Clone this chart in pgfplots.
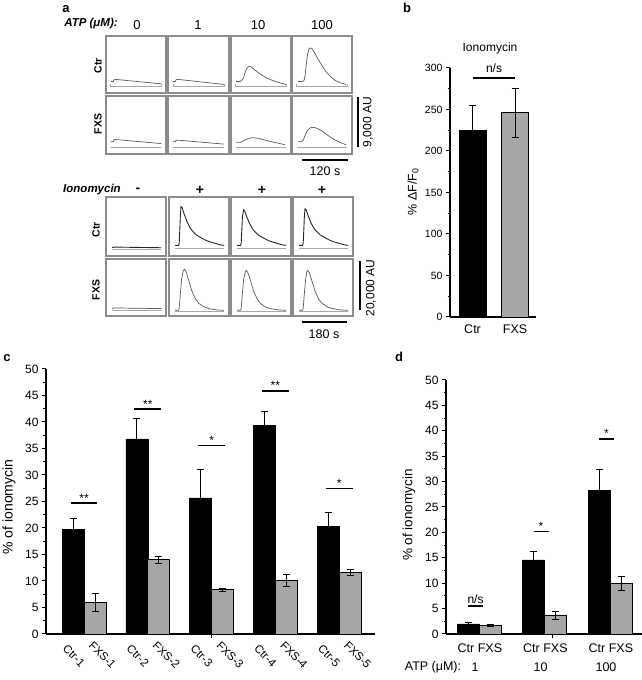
\documentclass[border=0pt]{standalone}
\usepackage{fontspec}
\setmainfont{Liberation Sans}
\usepackage{pgfplots}
\pgfplotsset{compat=1.18}
\newcommand\fs[1]{\fontsize{#1}{#1}\selectfont}
\definecolor{fxs}{HTML}{A6A6A6}
\definecolor{boxc}{HTML}{8C8C8C}
\definecolor{trc}{HTML}{5A5A5A}
\definecolor{basec}{HTML}{A8A8A8}
\pgfplotsset{
 tbox/.style={anchor=south west, scale only axis, xmin=0,xmax=100,ymin=0,ymax=100,
   xtick=\empty, ytick=\empty, axis line style={boxc, line width=1.1pt}},
 tr/.style={trc, line width=0.7pt, mark=none},
 trd/.style={black!85, line width=0.9pt, mark=none},
 bs/.style={basec, line width=0.7pt, mark=none},
 barax/.style={anchor=south west, scale only axis, axis x line=bottom, axis y line=left,
   axis line style={line width=1.1pt,-}, tick align=outside, major tick length=4pt,
   minor tick length=2.5pt, tick style={black, line width=1pt}, minor y tick num=1,
   /pgf/number format/assume math mode=true, clip=false, ymin=0,
   tick label style={font=\fs{12}},
   error bars/error bar style={line width=1pt,black},
   error bars/error mark options={rotate=90, mark size=3.5pt, line width=1pt, black}},
}
\begin{document}
\begin{tikzpicture}
\useasboundingbox (0pt,0pt) rectangle (642pt,680pt);
% ---------------- panel a, ATP ----------------
\begin{axis}[tbox, at={(106pt,587pt)}, width=60pt, height=57pt]
\addplot[bs] coordinates {(8,15)(8,12)(92,12)(92,15)};
\addplot[tr] coordinates {(8,20)(12,20)(13,23)(15,24)(92,16)};
\end{axis}
\begin{axis}[tbox, at={(168pt,587pt)}, width=61pt, height=57pt]
\addplot[bs] coordinates {(8,15)(8,12)(92,12)(92,15)};
\addplot[tr] coordinates {(8,20)(12,20)(13,23)(15,24)(92,15)};
\end{axis}
\begin{axis}[tbox, at={(231pt,587pt)}, width=60pt, height=57pt]
\addplot[bs] coordinates {(8,15)(8,12)(92,12)(92,15)};
\addplot[tr] coordinates {(8,20)(15,20)(18,22)(21,27)(24,38)(27,44)(30,47)(33,46)(38,42)(45,36)(52,31)(60,26)(68,22.5)(76,19.5)(84,17)(92,15)};
\end{axis}
\begin{axis}[tbox, at={(292pt,587pt)}, width=60pt, height=57pt]
\addplot[bs] coordinates {(8,15)(8,12)(92,12)(92,15)};
\addplot[tr] coordinates {(10,20)(17,20)(20,22)(22,32)(24,52)(26,68)(28,77)(30,79)(33,78)(37,72)(43,60)(50,48)(57,37)(64,29)(72,22)(80,18)(90,15)};
\end{axis}
\begin{axis}[tbox, at={(106pt,526pt)}, width=60pt, height=58pt]
\addplot[bs] coordinates {(8,12)(92,12)};
\addplot[tr] coordinates {(8,21)(12,21)(13,24)(15,25)(92,18)};
\end{axis}
\begin{axis}[tbox, at={(168pt,526pt)}, width=61pt, height=58pt]
\addplot[bs] coordinates {(8,12)(92,12)};
\addplot[tr] coordinates {(8,21)(12,21)(13,23)(15,24)(92,17)};
\end{axis}
\begin{axis}[tbox, at={(231pt,526pt)}, width=60pt, height=58pt]
\addplot[bs] coordinates {(8,12)(92,12)};
\addplot[tr] coordinates {(8,20)(16,20)(19,22)(25,25)(32,27.5)(38,28)(45,27)(60,23)(75,19.5)(90,16)};
\end{axis}
\begin{axis}[tbox, at={(292pt,526pt)}, width=60pt, height=58pt]
\addplot[bs] coordinates {(8,12)(92,12)};
\addplot[tr] coordinates {(10,21)(16,21)(19,24)(22,33)(26,41)(30,45)(35,46)(40,45)(48,41)(56,35)(64,29)(72,24)(80,20)(90,16)};
\end{axis}
% ---------------- panel a, ionomycin ----------------
\begin{axis}[tbox, at={(106pt,424pt)}, width=60pt, height=59pt]
\addplot[bs] coordinates {(10,12)(92,12)};
\addplot[trd] coordinates {(10,14)(13,15)(20,15)(92,14)};
\end{axis}
\begin{axis}[tbox, at={(169pt,424pt)}, width=60pt, height=59pt]
\addplot[bs] coordinates {(10,13)(92,13)};
\addplot[trd] coordinates {(10,18)(16,18)(17,22)(18,45)(19,70)(20,84)(22,82)(25,72)(30,58)(36,46)(45,36)(55,30)(65,25)(75,22)(85,19)(92,18)};
\end{axis}
\begin{axis}[tbox, at={(231pt,424pt)}, width=60pt, height=59pt]
\addplot[bs] coordinates {(10,13)(92,13)};
\addplot[trd] coordinates {(10,18)(16,18)(17,22)(18,43)(19,66)(21,78)(23,76)(26,67)(31,55)(37,44)(45,36)(55,30)(65,25)(75,22)(85,19)(92,18)};
\end{axis}
\begin{axis}[tbox, at={(293pt,424pt)}, width=60pt, height=59pt]
\addplot[bs] coordinates {(10,13)(92,13)};
\addplot[trd] coordinates {(10,18)(16,18)(17,22)(18,44)(19,68)(20,80)(22,78)(25,69)(30,56)(36,45)(45,36)(55,30)(65,25)(75,22)(85,19)(92,18)};
\end{axis}
\begin{axis}[tbox, at={(106pt,364pt)}, width=60pt, height=57pt]
\addplot[bs] coordinates {(10,10)(92,10)};
\addplot[tr] coordinates {(10,13)(13,14)(20,14)(92,13)};
\end{axis}
\begin{axis}[tbox, at={(169pt,364pt)}, width=60pt, height=57pt]
\addplot[bs] coordinates {(10,9)(92,9)};
\addplot[tr] coordinates {(10,10)(16,10)(17,14)(19,40)(21,65)(24,80)(26,82)(29,76)(33,62)(38,44)(44,30)(50,22)(58,16)(68,12.5)(80,10.5)(92,10)};
\end{axis}
\begin{axis}[tbox, at={(231pt,364pt)}, width=60pt, height=57pt]
\addplot[bs] coordinates {(10,9)(92,9)};
\addplot[tr] coordinates {(10,10)(16,10)(17,14)(19,40)(21,64)(24,78)(26,80)(29,74)(33,60)(38,43)(44,29)(50,21)(58,15.5)(68,12.5)(80,10.5)(92,10)};
\end{axis}
\begin{axis}[tbox, at={(293pt,364pt)}, width=60pt, height=57pt]
\addplot[bs] coordinates {(10,9)(92,9)};
\addplot[tr] coordinates {(10,10)(16,10)(17,14)(19,40)(21,64)(23,78)(25,80)(28,74)(32,60)(37,43)(43,29)(50,21)(58,15.5)(68,12.5)(80,10.5)(92,10)};
\end{axis}
% panel a texts
\node[font=\bfseries\fs{13}] at (66pt,671pt) {a};
\node[font=\bfseries\itshape\fs{11.5}] at (91pt,656pt) {ATP (μM):};
\foreach \xx/\tt in {137/0,198/1,258/10,322/100} \node[font=\fs{13}] at (\xx pt,655pt) {\tt};
\node[font=\bfseries\fs{10.5}, rotate=90] at (98pt,614pt) {Ctr};
\node[font=\bfseries\fs{10.5}, rotate=90] at (98pt,556pt) {FXS};
\draw[line width=1.2pt] (358pt,583pt)--(358pt,533pt);
\node[font=\fs{12}, rotate=90] at (368pt,558pt) {9,000 AU};
\draw[line width=1.2pt] (302pt,520pt)--(348pt,520pt);
\node[font=\fs{12.5}] at (325pt,509pt) {120 s};
\node[font=\bfseries\itshape\fs{11.5}] at (92pt,490pt) {Ionomycin};
\node[font=\bfseries\fs{14}] at (138pt,490pt) {-};
\foreach \xx in {200,262,322} \node[font=\bfseries\fs{14}] at (\xx pt,490pt) {+};
\node[font=\bfseries\fs{10.5}, rotate=90] at (96pt,450pt) {Ctr};
\node[font=\bfseries\fs{10.5}, rotate=90] at (96pt,390pt) {FXS};
\draw[line width=1.2pt] (360pt,419pt)--(360pt,370pt);
\node[font=\fs{12}, rotate=90] at (371pt,392pt) {20,000 AU};
\draw[line width=1.2pt] (302pt,358pt)--(347pt,358pt);
\node[font=\fs{12.5}] at (324pt,346pt) {180 s};
% ---------------- panel b ----------------
\begin{axis}[barax, at={(450pt,363pt)}, width=86pt, height=249pt,
  xmin=0.47, xmax=2.49, ymax=300, ytick={0,50,...,300},
  xtick={1,2}, xticklabels={Ctr,FXS}, xtick style={draw=none},
  xticklabel style={font=\fs{12.5}}, yticklabel style={font=\fs{10.5}}]
\addplot[ybar, bar width=27pt, bar shift=0pt, fill=black, draw=black,
  error bars/.cd, y dir=both, y explicit] coordinates {(1,225) +- (0,30)};
\addplot[ybar, bar width=27pt, bar shift=0pt, fill=fxs, draw=black, line width=0.9pt,
  error bars/.cd, y dir=both, y explicit] coordinates {(2,246) +- (0,29.5)};
\end{axis}
\node[font=\bfseries\fs{13}] at (407pt,672pt) {b};
\node[font=\fs{12}] at (490pt,632pt) {Ionomycin};
\node[font=\fs{12}] at (494pt,612pt) {n/s};
\draw[line width=1.2pt] (473pt,602pt)--(515pt,602pt);
\node[font=\fs{12.5}, rotate=90] at (413pt,488pt) {\% ΔF/F\textsubscript{0}};
% ---------------- panel c ----------------
\begin{axis}[barax, at={(46pt,46pt)}, width=329pt, height=265pt,
  xmin=0.404, xmax=5.561, ymax=50, ytick={0,5,...,50},
  xtick={3}, xticklabels={\empty}, ybar=0pt, bar width=22pt]
\addplot[fill=black, draw=black, error bars/.cd, y dir=both, y explicit]
  coordinates {(1,19.8) +- (0,2.0) (2,36.8) +- (0,3.8) (3,25.7) +- (0,5.3) (4,39.4) +- (0,2.6) (5,20.3) +- (0,2.7)};
\addplot[fill=fxs, draw=black, line width=0.9pt, error bars/.cd, y dir=both, y explicit]
  coordinates {(1,6.0) +- (0,1.7) (2,14.0) +- (0,0.65) (3,8.35) +- (0,0.25) (4,10.1) +- (0,1.2) (5,11.6) +- (0,0.6)};
\foreach \k/\yy/\ss in {1/24.7/**,2/42.45/**,3/35.5/*,4/45.85/**,5/27.4/*}{
  \edef\tmp{\noexpand\draw[line width=1.2pt] (axis cs:\k-0.21,\yy)--(axis cs:\k+0.21,\yy);
  \noexpand\node[font=\noexpand\fs{12}, anchor=base, inner sep=0pt, yshift=1pt] at (axis cs:\k,\yy) {\ss};}\tmp}
\end{axis}
\foreach \k/\pc in {1/84.0,2/147.8,3/211.6,4/275.4,5/339.2}{
  \node[font=\fs{11.5}, rotate=-45, inner sep=0pt] at (\pc pt-10pt,24pt) {Ctr-\k};
  \node[font=\fs{11.5}, rotate=-45, inner sep=0pt] at (\pc pt+18.5pt,25pt) {FXS-\k};
}
\node[font=\bfseries\fs{13}] at (7pt,322pt) {c};
\node[font=\fs{14}, rotate=90] at (9pt,173pt) {\% of ionomycin};
% ---------------- panel d ----------------
\begin{axis}[barax, at={(446pt,46pt)}, width=196pt, height=254pt,
  xmin=0.496, xmax=3.488, ymax=50, ytick={0,5,...,50},
  xtick={2.12}, xticklabels={\empty}, ybar=0pt, bar width=22pt]
\addplot[fill=black, draw=black, error bars/.cd, y dir=both, y explicit]
  coordinates {(1,2.0) +- (0,0.25) (2,14.6) +- (0,1.7) (3,28.3) +- (0,4.1)};
\addplot[fill=fxs, draw=black, line width=0.9pt, error bars/.cd, y dir=both, y explicit]
  coordinates {(1,1.7) +- (0,0.25) (2,3.7) +- (0,0.8) (3,10.0) +- (0,1.4)};
\draw[line width=1.2pt] (axis cs:0.832,5.5)--(axis cs:1.062,5.5);
\node[font=\fs{12}, anchor=base, inner sep=0pt, yshift=3pt] at (axis cs:0.947,5.5) {n/s};
\draw[line width=1.2pt] (axis cs:1.832,20.1)--(axis cs:2.062,20.1);
\node[font=\fs{12}, anchor=base, inner sep=0pt, yshift=1pt] at (axis cs:1.947,20.1) {*};
\draw[line width=1.2pt] (axis cs:2.832,38.4)--(axis cs:3.062,38.4);
\node[font=\fs{12}, anchor=base, inner sep=0pt, yshift=1pt] at (axis cs:2.947,38.4) {*};
\end{axis}
\foreach \pc/\tt in {479/1,544.5/10,610/100}{
  \node[font=\fs{12.5}] at (\pc pt-13pt,32pt) {Ctr};
  \node[font=\fs{12.5}] at (\pc pt+11pt,32pt) {FXS};
  \node[font=\fs{12.5}] at (\pc pt-4pt,13pt) {\tt};
}
\node[font=\bfseries\fs{13}] at (399pt,323pt) {d};
\node[font=\fs{13.5}, rotate=90] at (409pt,165pt) {\% of ionomycin};
\node[font=\fs{12.5}] at (433pt,13pt) {ATP (μM):};
\end{tikzpicture}
\end{document}
